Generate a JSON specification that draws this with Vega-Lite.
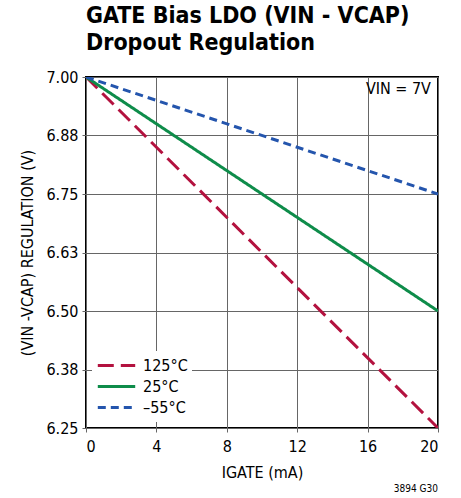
{
  "$schema": "https://vega.github.io/schema/vega-lite/v6.json",
  "width": 352,
  "height": 351,
  "autosize": "none",
  "padding": {"left": 86, "top": 77, "right": 23, "bottom": 70},
  "background": "white",
  "title": {
    "text": ["GATE Bias LDO (VIN - VCAP)", "Dropout Regulation"],
    "anchor": "start",
    "frame": "group",
    "font": "DejaVu Sans Condensed, Liberation Sans, sans-serif",
    "fontSize": 23,
    "fontWeight": "bold",
    "lineHeight": 27,
    "offset": 14,
    "color": "black"
  },
  "config": {
    "font": "DejaVu Sans Condensed, Liberation Sans, sans-serif",
    "view": {"stroke": "black", "strokeWidth": 2},
    "axis": {
      "labelFont": "DejaVu Sans Condensed, Liberation Sans, sans-serif",
      "titleFont": "DejaVu Sans Condensed, Liberation Sans, sans-serif",
      "labelFontSize": 16,
      "titleFontSize": 16,
      "titleFontWeight": "normal",
      "labelColor": "black",
      "titleColor": "black",
      "gridColor": "#666666",
      "gridWidth": 1,
      "gridOpacity": 1,
      "tickColor": "#666666",
      "tickSize": 4,
      "domain": false
    },
    "legend": {
      "labelFont": "DejaVu Sans Condensed, Liberation Sans, sans-serif"
    }
  },
  "datasets": {
    "lines": [
      {"igate": 0, "v": 7.0, "temp": "125°C"},
      {"igate": 20, "v": 6.25, "temp": "125°C"},
      {"igate": 0, "v": 7.0, "temp": "25°C"},
      {"igate": 20, "v": 6.5, "temp": "25°C"},
      {"igate": 0, "v": 7.0, "temp": "–55°C"},
      {"igate": 20, "v": 6.75, "temp": "–55°C"}
    ],
    "notes": [
      {"igate": 19.6, "v": 6.975, "label": "VIN = 7V", "size": 16},
      {"igate": 20, "v": 6.12, "label": "3894 G30", "size": 10}
    ]
  },
  "layer": [
    {
      "data": {"name": "lines"},
      "mark": {"type": "line", "strokeWidth": 3, "clip": true},
      "encoding": {
        "x": {
          "field": "igate",
          "type": "quantitative",
          "scale": {"domain": [0, 20], "nice": false},
          "axis": {"values": [0, 4, 8, 12, 16, 20], "title": "IGATE (mA)", "labelPadding": 6, "titlePadding": 10}
        },
        "y": {
          "field": "v",
          "type": "quantitative",
          "scale": {"domain": [6.25, 7.0], "nice": false, "zero": false},
          "axis": {
            "values": [6.25, 6.375, 6.5, 6.625, 6.75, 6.875, 7.0],
            "format": ".2f",
            "title": "(VIN -VCAP) REGULATION (V)",
            "labelPadding": 4,
            "titlePadding": 10
          }
        },
        "color": {
          "field": "temp",
          "type": "nominal",
          "scale": {"domain": ["125°C", "25°C", "–55°C"], "range": ["#b3123f", "#0e8c4a", "#2455ad"]},
          "legend": {
            "title": null,
            "orient": "bottom-left",
            "offset": 6,
            "fillColor": "white",
            "padding": 4,
            "labelFontSize": 16,
            "labelColor": "black",
            "symbolType": "stroke",
            "symbolStrokeWidth": 3,
            "symbolSize": 1400,
            "clipHeight": 21,
            "rowPadding": 0,
            "labelOffset": 6
          }
        },
        "strokeDash": {
          "field": "temp",
          "type": "nominal",
          "scale": {"domain": ["125°C", "25°C", "–55°C"], "range": [[16, 7], [1, 0], [8, 5]]},
          "legend": {
            "title": null,
            "orient": "bottom-left",
            "offset": 6,
            "fillColor": "white",
            "padding": 4,
            "labelFontSize": 16,
            "labelColor": "black",
            "symbolType": "stroke",
            "symbolStrokeWidth": 3,
            "symbolSize": 1400,
            "clipHeight": 21,
            "rowPadding": 0,
            "labelOffset": 6
          }
        }
      }
    },
    {
      "data": {"name": "notes"},
      "mark": {"type": "text", "align": "right", "baseline": "middle", "color": "black", "font": "DejaVu Sans Condensed, Liberation Sans, sans-serif", "clip": false},
      "encoding": {
        "x": {"field": "igate", "type": "quantitative"},
        "y": {"field": "v", "type": "quantitative"},
        "text": {"field": "label"},
        "size": {"field": "size", "type": "quantitative", "scale": null}
      }
    }
  ]
}
